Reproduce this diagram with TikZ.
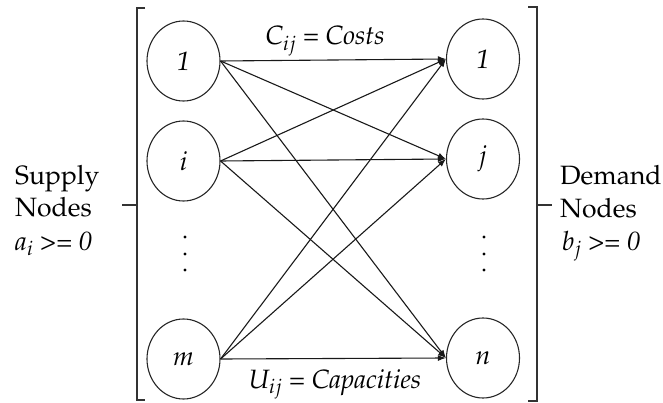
\documentclass[tikz,border=0pt]{standalone}
\usepackage[T1]{fontenc}
\usepackage{mathpazo}
\usetikzlibrary{shapes.geometric,arrows.meta}
\begin{document}
\begin{tikzpicture}[x=1pt,y=-1pt,
  font=\fontsize{26.5}{31}\selectfont,
  nd/.style={ellipse,draw=black!85,line width=1.1pt,minimum width=73pt,minimum height=80pt,inner sep=0pt},
  arc/.style={draw=black!90,line width=1.1pt,-{Latex[length=8pt,width=6pt]}},
  brk/.style={draw=black!80,line width=1.1pt},
  txt/.style={anchor=base west,inner sep=0pt},
  lbl/.style={anchor=base,inner sep=0pt},
  dotn/.style={circle,fill=black,inner sep=0pt,minimum size=3.2pt}]
\useasboundingbox (0,0) rectangle (663,403);
% supply nodes
\node[nd] (L1) at (183.5,61) {\textit{1}};
\node[nd] (Li) at (183.5,161) {\textit{i}};
\node[nd] (Lm) at (183.5,359) {\textit{m}};
% demand nodes
\node[nd] (R1) at (483,59) {\textit{1}};
\node[nd] (Rj) at (483,159) {\textit{j}};
\node[nd] (Rn) at (483,358) {\textit{n}};
% dots
\node[dotn] (ld1) at (185,237) {};
\node[dotn] (ld2) at (185,254) {};
\node[dotn] (ld3) at (185,270) {};
\node[dotn] (rd1) at (484,237) {};
\node[dotn] (rd2) at (484,254) {};
\node[dotn] (rd3) at (484,270) {};
% edges
\foreach \s in {L1,Li,Lm}{
  \foreach \t in {R1,Rj,Rn}{
    \draw[arc] (\s.east) -- (\t.west);
  }
}
% labels
\node[lbl] (cost) at (325,45) {$C_{ij}$ = \textit{Costs}};
\node[lbl] (cap) at (335,388) {$U_{ij}$ = \textit{Capacities}};
% brackets
\coordinate (lbt) at (145,8);
\coordinate (lbb) at (145,400);
\draw[brk] (lbt) -- (137,8) -- (137,400) -- (lbb);
\draw[brk] (137,205) -- (122,205);
\coordinate (rbt) at (528,7);
\coordinate (rbb) at (528,401);
\draw[brk] (rbt) -- (537,7) -- (537,401) -- (rbb);
\draw[brk] (537,205) -- (552,205);
% side texts
\node[txt] (s1) at (15,185) {Supply};
\node[txt] (s2) at (15,217) {Nodes};
\node[txt] (s3) at (15,250) {\textit{a}$_i$ \textit{>= 0}};
\node[txt] (d1) at (560,185) {Demand};
\node[txt] (d2) at (560,218) {Nodes};
\node[txt] (d3) at (562,250) {\textit{b}$_j$ \textit{>= 0}};
\end{tikzpicture}
\end{document}
